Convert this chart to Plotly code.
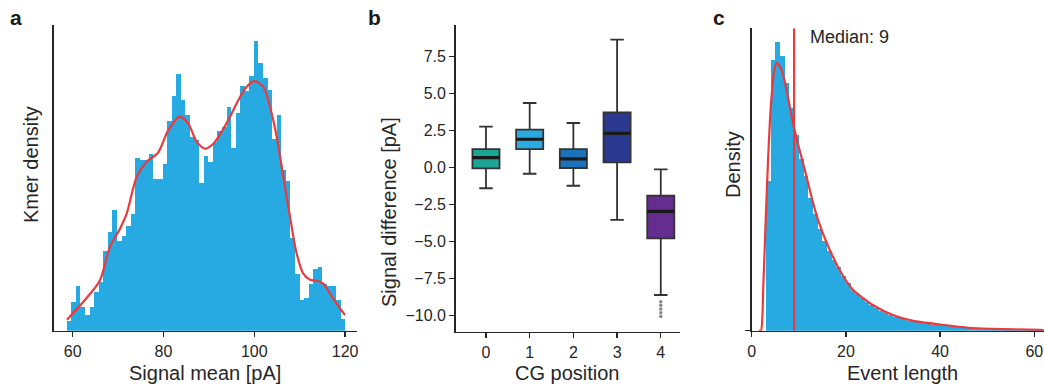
import plotly.graph_objects as go

# ---------------- Panel a: k-mer signal mean histogram ----------------
signal_bin_start = 58.7          # pA, left edge of first bin
signal_bin_width = 1.005         # pA
kmer_density = [9.5, 28.5, 44.5, 24, 16, 24, 38.5, 48.5, 80, 98.5,
                120.5, 90, 94.5, 104.5, 116.5, 172.5, 170.5, 170.5, 176.5, 151.5,
                151.5, 166.5, 209.5, 234.5, 256.5, 230.5, 215.5, 194, 190.5, 147.5,
                174.5, 168.5, 188.5, 199.5, 203.5, 223.5, 183, 217.5, 244.5, 240,
                254.5, 289.5, 268, 252.5, 240.5, 191.5, 215.5, 160.5, 149.5, 93,
                56.5, 30.5, 32.5, 46.5, 61.5, 63.5, 46.5, 44.5, 44.5, 30.5, 11.5]
kde_x = [58.74, 62.93, 66.01, 68.22, 70.42, 71.89, 74.10, 76.30, 78.79, 81.06,
         83.63, 85.46, 87.31, 89.14, 90.97, 92.82, 94.65, 96.48, 98.33, 100.15,
         101.98, 103.46, 104.93, 106.39, 107.86, 109.34, 110.79, 112.27, 113.74,
         115.20, 116.67, 118.15, 119.98]
kde_y = [11, 32, 50.5, 84, 102, 117, 154, 169, 178, 200.5,
         214, 207, 189, 182, 187, 199, 214, 230.5, 244, 249.5,
         244, 224, 194, 154, 114, 77, 57, 51, 50,
         47, 37, 27, 15.5]
signal_ticks = [60, 80, 100, 120]

# ---------------- Panel b: signal difference by CG position ----------------
cg_positions = [0, 1, 2, 3, 4]
box_q1 = [-0.04, 1.26, -0.02, 0.36, -4.77]
box_median = [0.68, 1.92, 0.59, 2.32, -2.95]
box_q3 = [1.26, 2.57, 1.26, 3.74, -1.89]
box_lower = [-1.39, -0.41, -1.22, -3.53, -8.60]
box_upper = [2.77, 4.37, 3.02, 8.65, -0.11]
outlier_pos = 4
outlier_vals = [-9.05, -9.3, -9.55, -9.8, -10.05]
box_colors = ["#1ba595", "#29abe2", "#1a73ba", "#2b3990", "#662d91"]
diff_ticks = [7.5, 5.0, 2.5, 0.0, -2.5, -5.0, -7.5, -10.0]

# ---------------- Panel c: event length distribution ----------------
event_bin_left = list(range(3, 62))
event_density = [149.7, 270.7, 288.7, 274.7, 248, 222.4, 195.7, 171.4, 154.7, 132.7,
                 116.7, 101.7, 89.7, 79.7, 70.7, 63.5, 54.5, 47.4, 41, 36.5,
                 33, 28.5, 25.4, 22.4, 19.7, 17.4, 16, 13.4, 12.4, 11.4,
                 10, 9.4, 8.7, 7.4, 7.4, 5.7, 6.7, 5.7, 5.4, 4.4,
                 3.7, 4.4, 3.4, 2.4, 2.2, 2.0, 1.8, 1.5, 1.3, 1.1,
                 0.9, 0.8, 0.7, 0.6, 0.5, 0.5, 0.4, 0.4, 0.3]
fit_x = [1.5, 1.97, 2.46, 2.97, 3.53, 4.1, 4.8, 5.37, 6.37, 7.43, 8.49, 9.9, 11.3,
         12.7, 14.1, 16.3, 19.1, 21.6, 25.8, 30.1, 34.3, 40, 45.6, 50.6, 61.2, 62]
fit_y = [0, 0, 43.8, 110.5, 177, 227, 260.5, 268, 260.5, 240.5, 213.8, 185.5, 160.5,
         133.8, 110.5, 83.8, 57.2, 40.5, 25.5, 15.5, 9.8, 6.2, 3.2, 1.8, 0.8, 0.7]
event_median = 9
event_ticks = [0, 20, 40, 60]

# ---------------- styling helpers ----------------
W, H = 1044, 387
BLUE = "#27a9e1"
RED = "#ea3a3d"
AX = "#262626"
FONT = "Liberation Sans, Arial, sans-serif"


def px(x):
    return x / W


def py(y):
    return 1 - y / H


fig = go.Figure()

# Panel a
centers_a = [signal_bin_start + signal_bin_width * (i + 0.5) for i in range(len(kmer_density))]
fig.add_trace(go.Bar(x=centers_a, y=kmer_density, width=signal_bin_width,
                     marker=dict(color=BLUE, line=dict(width=0)),
                     xaxis="x", yaxis="y", showlegend=False))
fig.add_trace(go.Scatter(x=kde_x, y=kde_y, mode="lines",
                         line=dict(color=RED, width=2.2, shape="spline", smoothing=0.8),
                         xaxis="x", yaxis="y", showlegend=False))

# Panel b
half_w = 0.31
for i, pos in enumerate(cg_positions):
    fig.add_trace(go.Box(x=[pos], q1=[box_q1[i]], median=[box_median[i]], q3=[box_q3[i]],
                         lowerfence=[box_lower[i]], upperfence=[box_upper[i]],
                         width=2 * half_w, whiskerwidth=0.5, boxpoints=False,
                         fillcolor=box_colors[i],
                         line=dict(color="#333333", width=1.8),
                         xaxis="x2", yaxis="y2", showlegend=False))
    fig.add_trace(go.Scatter(x=[pos - half_w, pos + half_w],
                             y=[box_median[i], box_median[i]], mode="lines",
                             line=dict(color="#1a1a1a", width=3.2),
                             xaxis="x2", yaxis="y2", showlegend=False))
fig.add_trace(go.Scatter(x=[outlier_pos] * len(outlier_vals), y=outlier_vals, mode="markers",
                         marker=dict(color="#8a8a8a", size=3.5),
                         xaxis="x2", yaxis="y2", showlegend=False))

# Panel c
centers_c = [b + 0.5 for b in event_bin_left]
fig.add_trace(go.Bar(x=centers_c, y=event_density, width=1.0,
                     marker=dict(color=BLUE, line=dict(width=0)),
                     xaxis="x3", yaxis="y3", showlegend=False))
fig.add_trace(go.Scatter(x=fit_x, y=fit_y, mode="lines",
                         line=dict(color=RED, width=2.2, shape="spline", smoothing=0.6),
                         xaxis="x3", yaxis="y3", showlegend=False))
fig.add_trace(go.Scatter(x=[event_median, event_median], y=[0, 302.4], mode="lines",
                         line=dict(color=RED, width=2.2),
                         xaxis="x3", yaxis="y3", showlegend=False))

axis_common = dict(showline=True, linecolor=AX, linewidth=1.6, showgrid=False,
                   zeroline=False, ticks="outside", ticklen=5, tickwidth=1.3,
                   tickcolor=AX, automargin=False, ticklabeloverflow="allow",
                   tickfont=dict(family=FONT, size=16, color="#262626"))

fig.update_layout(
    width=W, height=H, autosize=False,
    margin=dict(l=0, r=0, t=0, b=0),
    paper_bgcolor="white", plot_bgcolor="white",
    template="none",
    barmode="overlay", bargap=0, boxmode="overlay",
    font=dict(family=FONT, color="#262626"),
    xaxis=dict(axis_common, domain=[px(54), px(357)], range=[55.88, 122.62],
               tickvals=signal_ticks, anchor="y"),
    yaxis=dict(axis_common, domain=[py(330.7), py(25)], range=[0, 305.7],
               showticklabels=False, ticks="", anchor="x"),
    xaxis2=dict(axis_common, domain=[px(455.7), px(680)], range=[-0.693, 4.44],
                tickvals=cg_positions, anchor="y2"),
    yaxis2=dict(axis_common, domain=[py(331.7), py(25)], range=[-11.08, 9.64],
                tickvals=diff_ticks, tickformat=".1f", anchor="x2"),
    xaxis3=dict(axis_common, domain=[px(751.7), 1.0], range=[0, 62.06],
                tickvals=event_ticks, anchor="y3"),
    yaxis3=dict(axis_common, domain=[py(330.7), py(28.3)], range=[0, 302.4],
                tickvals=[0], ticktext=[""], anchor="x3"),
)

ann = []
title_font = dict(family=FONT, size=20, color="#262626")
# panel letters
for letter, x, y in [("a", 16, 18), ("b", 374, 18), ("c", 719, 18)]:
    ann.append(dict(text=f"<b>{letter}</b>", x=px(x), y=py(y), xref="paper", yref="paper",
                    showarrow=False, xanchor="center", yanchor="middle",
                    font=dict(family=FONT, size=21, color="#1a1a1a")))
# axis titles
ann += [
    dict(text="Kmer density", x=px(31), y=py(165), textangle=-90),
    dict(text="Signal mean [pA]", x=px(205), y=py(373)),
    dict(text="Signal difference [pA]", x=px(389), y=py(212), textangle=-90),
    dict(text="CG position", x=px(567), y=py(373)),
    dict(text="Density", x=px(733), y=py(165), textangle=-90),
    dict(text="Event length", x=px(902), y=py(373)),
]
for a in ann[3:]:
    a.update(xref="paper", yref="paper", showarrow=False, xanchor="center",
             yanchor="middle", font=title_font)
ann.append(dict(text="Median: 9", x=px(808), y=py(37), xref="paper", yref="paper",
                showarrow=False, xanchor="left", yanchor="middle",
                font=dict(family=FONT, size=18, color="#262626")))
fig.update_layout(annotations=ann)

fig.write_html("out.html",
               config={"displayModeBar": False, "staticPlot": True},
               post_script="document.body.style.margin='0';document.body.style.overflow='hidden';")
